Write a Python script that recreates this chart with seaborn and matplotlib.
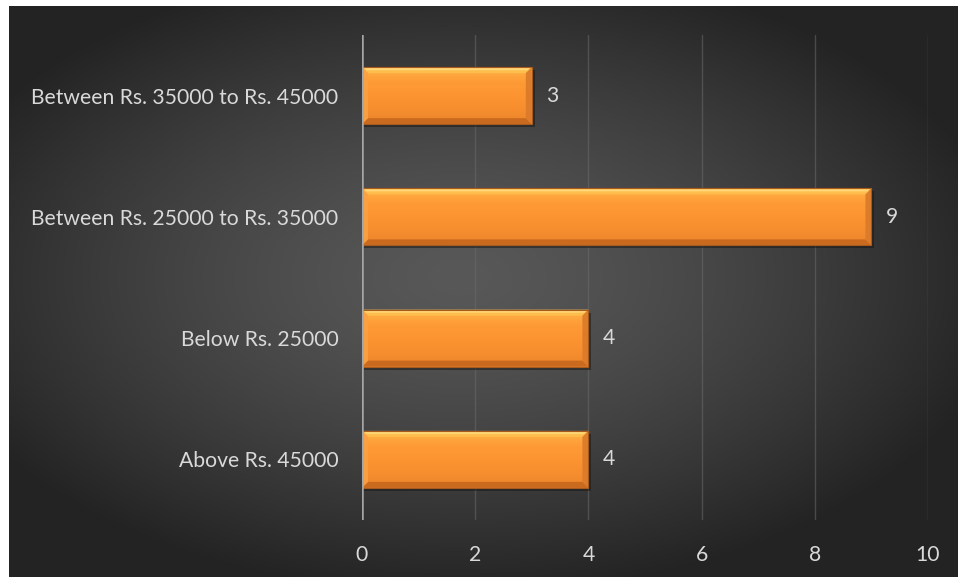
import numpy as np
import pandas as pd
import matplotlib
matplotlib.use("Agg")
import matplotlib.pyplot as plt
from matplotlib.patches import Polygon
from matplotlib.colors import LinearSegmentedColormap
import seaborn as sns

# Monthly income groups and respondent counts
categories = [
    "Between Rs. 35000 to Rs. 45000",
    "Between Rs. 25000 to Rs. 35000",
    "Below Rs. 25000",
    "Above Rs. 45000",
]
counts = [3, 9, 4, 4]
x_ticks = [0, 2, 4, 6, 8, 10]

df = pd.DataFrame({"income": categories, "count": counts})

sns.set_theme(style="dark")
plt.rcParams["font.family"] = ["Lato", "DejaVu Sans"]
FS = 15.2
TXT = "#d9d9d9"

W, H, DPI = 958, 577, 100
fig = plt.figure(figsize=(W / DPI, H / DPI), dpi=DPI, facecolor="white")

# Dark radial-gradient backdrop behind the chart
bg = fig.add_axes([9 / W, 0, 1 - 9 / W, 1 - 6 / H], zorder=0)
gx, gy = np.meshgrid(np.linspace(-1, 1, 400), np.linspace(-1, 1, 240))
r = np.sqrt(((gx + 0.05) / 1.1) ** 2 + ((gy + 0.05) / 1.05) ** 2)
shade = np.clip(0.345 - 0.19 * r ** 1.4, 0.14, 0.36)
bg.imshow(np.dstack([shade] * 3), aspect="auto", extent=[0, 1, 0, 1],
          interpolation="bicubic")
bg.set_axis_off()

ax = fig.add_axes([362 / W, 1 - 520 / H, (928 - 362) / W, (520 - 35) / H], zorder=1)
ax.patch.set_alpha(0)

bar_color = "#FB9332"
sns.barplot(data=df, x="count", y="income", orient="h", color=bar_color,
            width=0.47, saturation=1, linewidth=0, ax=ax, zorder=3)

ax.set_xlim(0, 10)
ax.set_ylim(3.5, -0.5)
ax.set_autoscale_on(False)
ax.set_xticks(x_ticks)
ax.set_xticklabels([str(t) for t in x_ticks])
ax.set_xlabel("")
ax.set_ylabel("")
for s in ax.spines.values():
    s.set_visible(False)
ax.grid(False)
for t in x_ticks[1:]:
    ax.axvline(t, color="#6a6a6a", lw=1.0, alpha=0.55, zorder=1)
ax.axvline(0, color="#a6a6a6", lw=1.8, zorder=5)

ax.tick_params(axis="both", length=0, colors=TXT, labelsize=FS)
ax.tick_params(axis="y", pad=17)
ax.tick_params(axis="x", pad=18)
for lbl in ax.get_xticklabels() + ax.get_yticklabels():
    lbl.set_color(TXT)

fig.canvas.draw()
to_disp = ax.transData.frozen()
to_data = ax.transData.inverted().frozen()


def poly(points_px, color, z, alpha=1.0):
    pts = to_data.transform(np.array(points_px))
    p = Polygon(pts, closed=True, facecolor=color, edgecolor="none",
                alpha=alpha, zorder=z)
    ax.add_patch(p)
    return p


face_cmap = LinearSegmentedColormap.from_list(
    "face", ["#FFB347", "#FE9B36", "#FC9431", "#F68E2F", "#EA852B"])

bars = list(ax.patches)[:len(counts)]

# Bevelled look for each bar, built on the drawn bar geometry
for bar, v in zip(bars, counts):
    x0, y0 = bar.get_x(), bar.get_y()
    x1, y1 = x0 + bar.get_width(), y0 + bar.get_height()
    (px0, pyA), (px1, pyB) = to_disp.transform([(x0, y0), (x1, y1)])
    top, bot = max(pyA, pyB), min(pyA, pyB)
    b = 6
    # drop shadow
    poly([(px0 + 2, bot - 3), (px1 + 3, bot - 3), (px1 + 3, top - 3),
          (px1, top - 3), (px1, bot), (px0 + 2, bot)], "#151515", 2.5, 0.5)
    # smooth vertical face gradient
    grad = np.linspace(0, 1, 64).reshape(-1, 1)
    im = ax.imshow(grad, cmap=face_cmap, aspect="auto",
                   extent=[x0, x1, max(y0, y1), min(y0, y1)],
                   interpolation="bilinear", zorder=3.2)
    im.set_clip_path(bar)
    # top highlight
    poly([(px0, top), (px1, top), (px1 - b, top - b), (px0 + b, top - b)],
         "#FFC04F", 4, 0.95)
    poly([(px0 + 2, top - 1), (px1 - 2, top - 1), (px1 - 4, top - 3),
          (px0 + 4, top - 3)], "#FFDB7E", 4.1, 0.9)
    # bottom shade
    poly([(px0, bot), (px1, bot), (px1 - b, bot + b), (px0 + b, bot + b)],
         "#C8691F", 4, 0.95)
    # side bevels
    poly([(px0, top), (px0 + b, top - b), (px0 + b, bot + b), (px0, bot)],
         "#F9A146", 4, 0.9)
    poly([(px1, top), (px1 - b, top - b), (px1 - b, bot + b), (px1, bot)],
         "#D97A2B", 4, 0.9)
    # outline
    ax.add_patch(Polygon(to_data.transform([(px0, top), (px1, top), (px1, bot), (px0, bot)]),
                         closed=True, facecolor="none", edgecolor="#A85A1C",
                         lw=0.8, zorder=4.5))
    ax.annotate(f"{v}", (v, y0 + bar.get_height() / 2), xytext=(14, 0),
                textcoords="offset pixels", ha="left", va="center",
                color=TXT, fontsize=FS, zorder=6)

ax.set_xlim(0, 10)
ax.set_ylim(3.5, -0.5)

fig.savefig("out.png", dpi=DPI, facecolor="white")
